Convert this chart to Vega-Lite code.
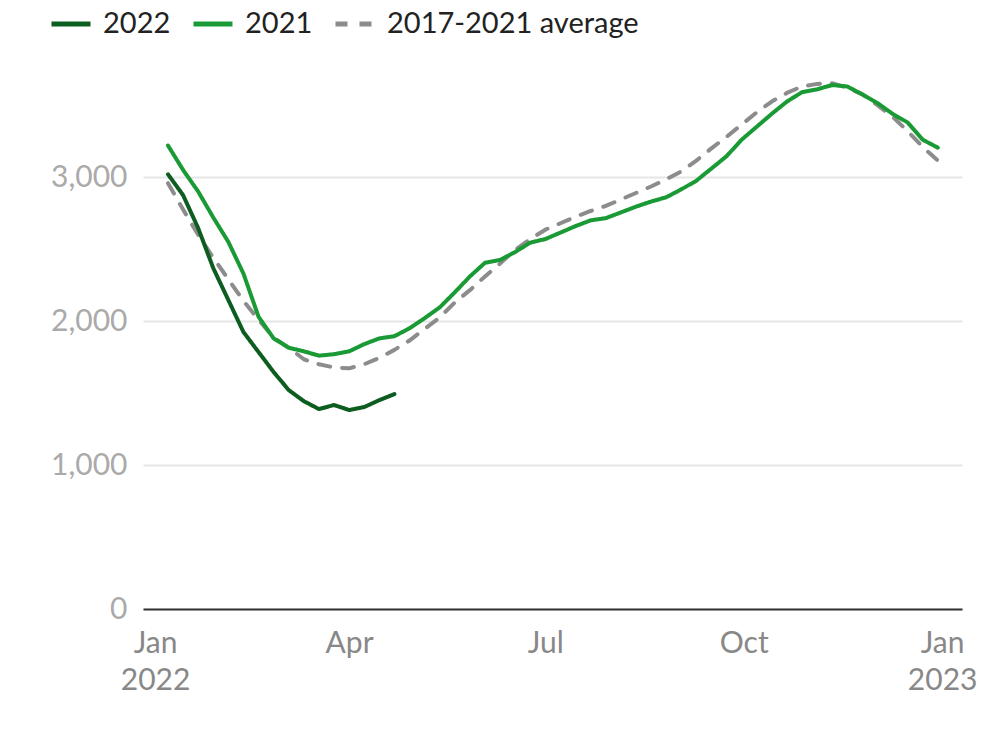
{
  "$schema": "https://vega.github.io/schema/vega-lite/v6.json",
  "autosize": {"type": "none"},
  "width": 819,
  "height": 547,
  "padding": {"left": 143, "top": 62, "right": 38, "bottom": 129},
  "background": "white",
  "config": {
    "view": {"stroke": null},
    "font": "Lato",
    "axis": {"labelFont": "Lato", "titleFont": "Lato"},
    "legend": {"labelFont": "Lato"}
  },
  "data": {
    "values": [
      {"date": "2022-01-07", "series": "2017-2021 average", "value": 2958},
      {"date": "2022-01-14", "series": "2017-2021 average", "value": 2775},
      {"date": "2022-01-21", "series": "2017-2021 average", "value": 2600},
      {"date": "2022-01-28", "series": "2017-2021 average", "value": 2440},
      {"date": "2022-02-04", "series": "2017-2021 average", "value": 2290},
      {"date": "2022-02-11", "series": "2017-2021 average", "value": 2140},
      {"date": "2022-02-18", "series": "2017-2021 average", "value": 2010},
      {"date": "2022-02-25", "series": "2017-2021 average", "value": 1885},
      {"date": "2022-03-04", "series": "2017-2021 average", "value": 1815},
      {"date": "2022-03-11", "series": "2017-2021 average", "value": 1735},
      {"date": "2022-03-18", "series": "2017-2021 average", "value": 1700},
      {"date": "2022-03-25", "series": "2017-2021 average", "value": 1678},
      {"date": "2022-04-01", "series": "2017-2021 average", "value": 1672},
      {"date": "2022-04-08", "series": "2017-2021 average", "value": 1700},
      {"date": "2022-04-15", "series": "2017-2021 average", "value": 1745},
      {"date": "2022-04-22", "series": "2017-2021 average", "value": 1800},
      {"date": "2022-04-29", "series": "2017-2021 average", "value": 1865},
      {"date": "2022-05-06", "series": "2017-2021 average", "value": 1945},
      {"date": "2022-05-13", "series": "2017-2021 average", "value": 2025},
      {"date": "2022-05-20", "series": "2017-2021 average", "value": 2130},
      {"date": "2022-05-27", "series": "2017-2021 average", "value": 2215},
      {"date": "2022-06-03", "series": "2017-2021 average", "value": 2310},
      {"date": "2022-06-10", "series": "2017-2021 average", "value": 2400},
      {"date": "2022-06-17", "series": "2017-2021 average", "value": 2495},
      {"date": "2022-06-24", "series": "2017-2021 average", "value": 2570},
      {"date": "2022-07-01", "series": "2017-2021 average", "value": 2635},
      {"date": "2022-07-08", "series": "2017-2021 average", "value": 2680},
      {"date": "2022-07-15", "series": "2017-2021 average", "value": 2725},
      {"date": "2022-07-22", "series": "2017-2021 average", "value": 2765},
      {"date": "2022-07-29", "series": "2017-2021 average", "value": 2800},
      {"date": "2022-08-05", "series": "2017-2021 average", "value": 2845},
      {"date": "2022-08-12", "series": "2017-2021 average", "value": 2890},
      {"date": "2022-08-19", "series": "2017-2021 average", "value": 2935},
      {"date": "2022-08-26", "series": "2017-2021 average", "value": 2985},
      {"date": "2022-09-02", "series": "2017-2021 average", "value": 3040},
      {"date": "2022-09-09", "series": "2017-2021 average", "value": 3115},
      {"date": "2022-09-16", "series": "2017-2021 average", "value": 3200},
      {"date": "2022-09-23", "series": "2017-2021 average", "value": 3280},
      {"date": "2022-09-30", "series": "2017-2021 average", "value": 3365},
      {"date": "2022-10-07", "series": "2017-2021 average", "value": 3450},
      {"date": "2022-10-14", "series": "2017-2021 average", "value": 3525},
      {"date": "2022-10-21", "series": "2017-2021 average", "value": 3585},
      {"date": "2022-10-28", "series": "2017-2021 average", "value": 3630},
      {"date": "2022-11-04", "series": "2017-2021 average", "value": 3648},
      {"date": "2022-11-11", "series": "2017-2021 average", "value": 3653},
      {"date": "2022-11-18", "series": "2017-2021 average", "value": 3620},
      {"date": "2022-11-25", "series": "2017-2021 average", "value": 3575},
      {"date": "2022-12-02", "series": "2017-2021 average", "value": 3500},
      {"date": "2022-12-09", "series": "2017-2021 average", "value": 3420},
      {"date": "2022-12-16", "series": "2017-2021 average", "value": 3320},
      {"date": "2022-12-23", "series": "2017-2021 average", "value": 3210},
      {"date": "2022-12-30", "series": "2017-2021 average", "value": 3115},
      {"date": "2022-01-07", "series": "2021", "value": 3220},
      {"date": "2022-01-14", "series": "2021", "value": 3050},
      {"date": "2022-01-21", "series": "2021", "value": 2900},
      {"date": "2022-01-28", "series": "2021", "value": 2720},
      {"date": "2022-02-04", "series": "2021", "value": 2550},
      {"date": "2022-02-11", "series": "2021", "value": 2330},
      {"date": "2022-02-18", "series": "2021", "value": 2030},
      {"date": "2022-02-25", "series": "2021", "value": 1880},
      {"date": "2022-03-04", "series": "2021", "value": 1815},
      {"date": "2022-03-11", "series": "2021", "value": 1790},
      {"date": "2022-03-18", "series": "2021", "value": 1760},
      {"date": "2022-03-25", "series": "2021", "value": 1770},
      {"date": "2022-04-01", "series": "2021", "value": 1790},
      {"date": "2022-04-08", "series": "2021", "value": 1840},
      {"date": "2022-04-15", "series": "2021", "value": 1880},
      {"date": "2022-04-22", "series": "2021", "value": 1895},
      {"date": "2022-04-29", "series": "2021", "value": 1950},
      {"date": "2022-05-06", "series": "2021", "value": 2020},
      {"date": "2022-05-13", "series": "2021", "value": 2095},
      {"date": "2022-05-20", "series": "2021", "value": 2200},
      {"date": "2022-05-27", "series": "2021", "value": 2310},
      {"date": "2022-06-03", "series": "2021", "value": 2405},
      {"date": "2022-06-10", "series": "2021", "value": 2425},
      {"date": "2022-06-17", "series": "2021", "value": 2480},
      {"date": "2022-06-24", "series": "2021", "value": 2545},
      {"date": "2022-07-01", "series": "2021", "value": 2570},
      {"date": "2022-07-08", "series": "2021", "value": 2615},
      {"date": "2022-07-15", "series": "2021", "value": 2660},
      {"date": "2022-07-22", "series": "2021", "value": 2700},
      {"date": "2022-07-29", "series": "2021", "value": 2715},
      {"date": "2022-08-05", "series": "2021", "value": 2755},
      {"date": "2022-08-12", "series": "2021", "value": 2795},
      {"date": "2022-08-19", "series": "2021", "value": 2830},
      {"date": "2022-08-26", "series": "2021", "value": 2860},
      {"date": "2022-09-02", "series": "2021", "value": 2915},
      {"date": "2022-09-09", "series": "2021", "value": 2975},
      {"date": "2022-09-16", "series": "2021", "value": 3060},
      {"date": "2022-09-23", "series": "2021", "value": 3145},
      {"date": "2022-09-30", "series": "2021", "value": 3260},
      {"date": "2022-10-07", "series": "2021", "value": 3350},
      {"date": "2022-10-14", "series": "2021", "value": 3440},
      {"date": "2022-10-21", "series": "2021", "value": 3525},
      {"date": "2022-10-28", "series": "2021", "value": 3590},
      {"date": "2022-11-04", "series": "2021", "value": 3610},
      {"date": "2022-11-11", "series": "2021", "value": 3640},
      {"date": "2022-11-18", "series": "2021", "value": 3630},
      {"date": "2022-11-25", "series": "2021", "value": 3575},
      {"date": "2022-12-02", "series": "2021", "value": 3515},
      {"date": "2022-12-09", "series": "2021", "value": 3440},
      {"date": "2022-12-16", "series": "2021", "value": 3380},
      {"date": "2022-12-23", "series": "2021", "value": 3260},
      {"date": "2022-12-30", "series": "2021", "value": 3205},
      {"date": "2022-01-07", "series": "2022", "value": 3020},
      {"date": "2022-01-14", "series": "2022", "value": 2875},
      {"date": "2022-01-21", "series": "2022", "value": 2646},
      {"date": "2022-01-28", "series": "2022", "value": 2368},
      {"date": "2022-02-04", "series": "2022", "value": 2146},
      {"date": "2022-02-11", "series": "2022", "value": 1924},
      {"date": "2022-02-18", "series": "2022", "value": 1785},
      {"date": "2022-02-25", "series": "2022", "value": 1646},
      {"date": "2022-03-04", "series": "2022", "value": 1521},
      {"date": "2022-03-11", "series": "2022", "value": 1444},
      {"date": "2022-03-18", "series": "2022", "value": 1389},
      {"date": "2022-03-25", "series": "2022", "value": 1417},
      {"date": "2022-04-01", "series": "2022", "value": 1382},
      {"date": "2022-04-08", "series": "2022", "value": 1403},
      {"date": "2022-04-15", "series": "2022", "value": 1451},
      {"date": "2022-04-22", "series": "2022", "value": 1493}
    ]
  },
  "mark": {"type": "line", "strokeWidth": 4, "strokeCap": "round", "strokeJoin": "round"},
  "encoding": {
    "x": {
      "field": "date",
      "type": "temporal",
      "scale": {
        "type": "utc",
        "domain": [
          {"year": 2021, "month": 12, "date": 26, "hours": 10, "utc": true},
          {"year": 2023, "month": 1, "date": 10, "hours": 5, "utc": true}
        ]
      },
      "axis": {
        "title": null,
        "values": [
          {"year": 2022, "month": 1, "date": 1, "utc": true},
          {"year": 2022, "month": 4, "date": 1, "utc": true},
          {"year": 2022, "month": 7, "date": 1, "utc": true},
          {"year": 2022, "month": 10, "date": 1, "utc": true},
          {"year": 2023, "month": 1, "date": 1, "utc": true}
        ],
        "labelExpr": "utcmonth(datum.value) == 0 ? [utcFormat(datum.value, '%b'), utcFormat(datum.value, '%Y')] : utcFormat(datum.value, '%b')",
        "labelFontSize": 30,
        "labelColor": "#888888",
        "labelLineHeight": 37,
        "labelPadding": 19,
        "labelFlush": false,
        "labelOverlap": false,
        "ticks": false,
        "grid": false,
        "domain": true,
        "domainColor": "#333333",
        "domainWidth": 2
      }
    },
    "y": {
      "field": "value",
      "type": "quantitative",
      "scale": {"domain": [0, 3800], "nice": false},
      "axis": {
        "title": null,
        "values": [0, 1000, 2000, 3000],
        "format": ",.0f",
        "labelFontSize": 30,
        "labelColor": "#aaaaaa",
        "labelPadding": 16,
        "ticks": false,
        "domain": false,
        "grid": true,
        "gridColor": "#e6e6e6",
        "gridWidth": 2
      }
    },
    "color": {
      "field": "series",
      "type": "nominal",
      "scale": {
        "domain": ["2022", "2021", "2017-2021 average"],
        "range": ["#0d5c20", "#1a9a35", "#8c8c8c"]
      },
      "legend": {
        "title": null,
        "orient": "none",
        "legendX": -94,
        "legendY": -60,
        "direction": "horizontal",
        "symbolType": "stroke",
        "symbolSize": 1521,
        "symbolStrokeWidth": 5,
        "labelFontSize": 29,
        "labelColor": "#222222",
        "labelOffset": 10,
        "labelLimit": 400,
        "columnPadding": 12,
        "padding": 0
      }
    },
    "strokeDash": {
      "field": "series",
      "type": "nominal",
      "scale": {
        "domain": ["2022", "2021", "2017-2021 average"],
        "range": [[1, 0], [1, 0], [12, 12]]
      },
      "legend": {
        "title": null,
        "orient": "none",
        "legendX": -94,
        "legendY": -60,
        "direction": "horizontal",
        "symbolType": "stroke",
        "symbolSize": 1521,
        "symbolStrokeWidth": 5,
        "labelFontSize": 29,
        "labelColor": "#222222",
        "labelOffset": 10,
        "labelLimit": 400,
        "columnPadding": 12,
        "padding": 0
      }
    }
  }
}
